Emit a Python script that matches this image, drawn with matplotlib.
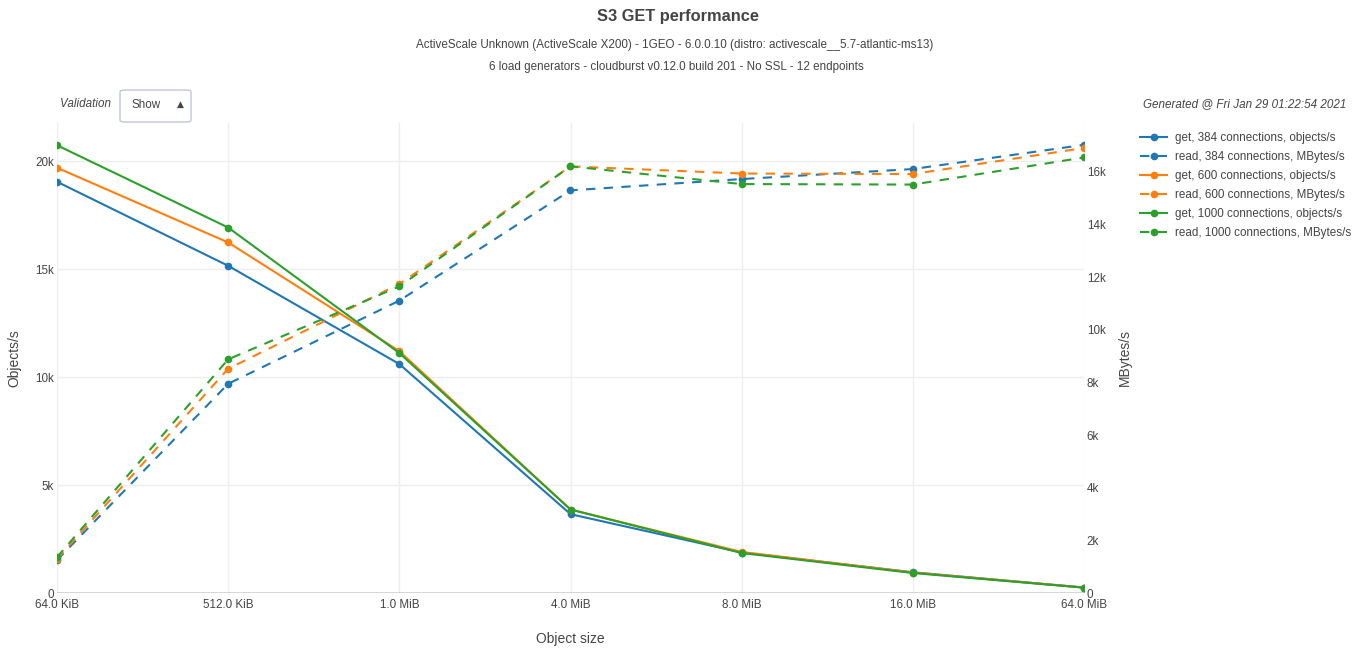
import numpy as np
import matplotlib
matplotlib.use('Agg')
import matplotlib.pyplot as plt
from matplotlib.patches import FancyBboxPatch

plt.rcParams['font.family'] = ['Liberation Sans', 'DejaVu Sans']

sizes = ['64.0 KiB', '512.0 KiB', '1.0 MiB', '4.0 MiB', '8.0 MiB', '16.0 MiB', '64.0 MiB']
connections = [384, 600, 1000]
colors = ['#1f77b4', '#ff7f0e', '#2ca02c']

# objects/s (left axis)
get_384 = [19040, 15150, 10600, 3650, 1875, 960, 254]
get_600 = [19690, 16230, 11200, 3865, 1900, 949, 252]
get_1000 = [20730, 16920, 11110, 3865, 1852, 925, 247]
# MBytes/s (right axis)
read_384 = [1250, 7950, 11110, 15300, 15730, 16110, 17030]
read_600 = [1290, 8520, 11740, 16210, 15940, 15920, 16910]
read_1000 = [1360, 8880, 11650, 16210, 15540, 15520, 16550]

gets = [get_384, get_600, get_1000]
reads = [read_384, read_600, read_1000]

W, H = 1368, 651
def fx(x): return x / W
def fy(y): return 1 - y / H

fig = plt.figure(figsize=(13.68, 6.51), dpi=100)
ax = fig.add_axes([fx(57), fy(593), fx(1084) - fx(57), fy(123) - fy(593)])
ax2 = ax.twinx()

txt = '#444444'
fs = 8.4
x = np.arange(len(sizes))
handles = []
for i, c in enumerate(connections):
    l1, = ax.plot(x, gets[i], color=colors[i], lw=1.5, marker='o', ms=4.5,
                  label='get, %d connections, objects/s' % c)
    l2, = ax2.plot(x, reads[i], color=colors[i], lw=1.5, marker='o', ms=4.5,
                   dashes=(4.5, 4.0), label='read, %d connections, MBytes/s' % c)
    handles += [l1, l2]

ax.set_xlim(0, 6)
ax.set_ylim(0, 21760)
ax2.set_ylim(0, 17860)
ax.set_xticks(x)
ax.set_xticklabels(sizes)
ax.set_yticks([0, 5000, 10000, 15000, 20000])
ax.set_yticklabels(['0', '5k', '10k', '15k', '20k'])
ax2.set_yticks(np.arange(0, 17000, 2000))
ax2.set_yticklabels(['0'] + ['%dk' % v for v in range(2, 17, 2)])

for a in (ax, ax2):
    for s in a.spines.values():
        s.set_visible(False)
    a.tick_params(length=0, labelsize=fs, colors=txt)
ax.tick_params(axis='y', pad=2)
ax.tick_params(axis='x', pad=4)
ax2.tick_params(axis='y', pad=2)
ax.grid(True, color='#eeeeee', lw=1)
ax.set_axisbelow(True)
ax.axhline(0, color='#444444', lw=1.0, zorder=1)

fig.text(fx(14), fy(358), 'Objects/s', rotation=90, ha='center', va='center',
         fontsize=10, color=txt)
fig.text(fx(1125), fy(358), 'MBytes/s', rotation=90, ha='center', va='center',
         fontsize=10, color=txt)
fig.text(fx(570), fy(639), 'Object size', ha='center', va='center',
         fontsize=10, color=txt)

fig.text(fx(678), fy(17), 'S3 GET performance', ha='center', va='center',
         fontsize=11.8, fontweight='bold', color=txt)
fig.text(fx(675), fy(45), 'ActiveScale Unknown (ActiveScale X200) - 1GEO - 6.0.0.10 (distro: activescale__5.7-atlantic-ms13)',
         ha='center', va='center', fontsize=fs, color=txt)
fig.text(fx(676), fy(67), '6 load generators - cloudburst v0.12.0 build 201 - No SSL - 12 endpoints',
         ha='center', va='center', fontsize=fs, color=txt)

fig.text(fx(111), fy(104), 'Validation', ha='right', va='center', fontsize=fs,
         style='italic', color=txt)
box = FancyBboxPatch((fx(120), fy(122)), fx(191) - fx(120), fy(90) - fy(122),
                     boxstyle='round,pad=0,rounding_size=0.003', transform=fig.transFigure,
                     facecolor='white', edgecolor='#bec8d9', lw=1)
fig.add_artist(box)
fig.text(fx(131), fy(105), 'Show', ha='left', va='center', fontsize=fs, color=txt)
fig.text(fx(180), fy(104), '▲', ha='center', va='center', fontsize=6.5, color=txt,
         family=['DejaVu Sans'])

fig.text(fx(1346), fy(104), 'Generated @ Fri Jan 29 01:22:54 2021', ha='right', va='center',
         fontsize=fs, style='italic', color=txt)

fig.legend(handles=handles, loc='upper left', bbox_to_anchor=(fx(1140), fy(132)),
           frameon=False, fontsize=fs, handlelength=2.35, handletextpad=0.65,
           labelspacing=0.6, borderaxespad=0, borderpad=0, labelcolor=txt)

fig.savefig('out.png', dpi=100)
